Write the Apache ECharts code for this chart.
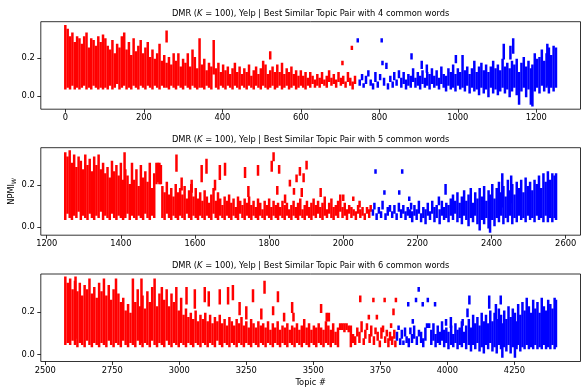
<!DOCTYPE html>
<html><head><meta charset="utf-8">
<script src="https://cdn.jsdelivr.net/npm/echarts/dist/echarts.min.js"></script>
<style>html,body{margin:0;padding:0;background:#fff}#c{width:586px;height:390px}</style>
</head><body><div id="c"></div>
<script>
// ---------- Panel 1 (4 common words) ----------
const p1Ticks = [0,200,400,600,800,1000,1200];
const p1RedTopic = [0,6,12,18,24,30,36,42,48,54,
60,66,72,78,84,90,96,102,108,114,
120,126,132,138,144,150,156,162,168,174,
180,186,192,198,204,210,216,222,228,234,
240,246,252,258,258,264,270,276,282,288,
294,300,306,312,318,324,330,336,342,348,
354,360,366,372,378,384,390,396,402,408,
414,420,426,432,438,444,450,456,462,468,
474,480,486,492,498,504,510,516,522,522,
528,534,540,546,552,558,564,570,576,582,
588,594,600,606,612,618,624,630,636,642,
648,654,660,666,672,678,684,690,696,702,
706,708,714,720,726,730,732,738];
const p1RedLow = [.04,.05,.04,.06,.04,.05,.04,.05,.06,.04,
.05,.04,.06,.05,.04,.05,.04,.05,.04,.06,
.04,.05,.07,.04,.05,.06,.04,.05,.04,.06,
.05,.04,.06,.05,.04,.06,.05,.04,.06,.05,
.04,.06,.05,.29,.05,.04,.06,.05,.04,.06,
.05,.04,.06,.05,.04,.06,.05,.04,.05,.05,
.04,.06,.05,.04,.12,.05,.04,.06,.05,.04,
.06,.05,.04,.06,.05,.04,.06,.05,.04,.06,
.05,.04,.06,.05,.04,.06,.05,.04,.20,.05,
.06,.04,.05,.06,.04,.05,.06,.04,.05,.06,
.04,.05,.06,.05,.04,.06,.05,.07,.05,.06,
.05,.07,.06,.05,.08,.06,.07,.05,.08,.06,
.17,.07,.05,.08,.06,.25,.04,.07];
const p1RedHigh = [.37,.35,.31,.33,.28,.31,.30,.27,.31,.33,
.25,.30,.29,.26,.31,.28,.32,.30,.26,.24,
.29,.22,.27,.25,.31,.33,.24,.28,.21,.30,
.23,.26,.29,.22,.25,.28,.20,.24,.19,.22,
.27,.18,.21,.34,.17,.20,.16,.22,.18,.22,
.15,.19,.17,.22,.15,.24,.20,.14,.30,.16,
.19,.13,.17,.15,.29,.14,.17,.12,.16,.13,
.15,.11,.14,.17,.12,.15,.11,.14,.12,.16,
.10,.13,.15,.11,.14,.18,.16,.11,.23,.13,
.15,.12,.16,.12,.17,.11,.14,.12,.15,.11,
.13,.10,.13,.10,.12,.09,.12,.10,.08,.11,
.09,.12,.08,.10,.13,.09,.11,.08,.12,.09,
.18,.10,.07,.12,.09,.26,.07,.10];
const p1BlueTopic = [745,750,756,760,766,772,778,784,790,796,
802,806,808,812,818,822,828,834,838,844,
850,856,862,868,874,880,882,886,892,898,
904,908,910,916,921,922,928,934,940,946,
952,958,964,970,976,982,988,994,995,1000,
1006,1012,1018,1024,1030,1036,1042,1048,1054,1060,
1066,1072,1078,1084,1090,1096,1102,1108,1114,1117,
1120,1126,1132,1134,1138,1141,1144,1150,1156,1162,
1168,1174,1180,1186,1190,1196,1202,1208,1214,1220,
1226,1228,1232,1238,1244,1250];
const p1BlueLow = [.29,.06,.09,.05,.07,.11,.06,.04,.08,.05,
.09,.29,.17,.06,.15,.04,.08,.05,.09,.06,
.10,.05,.07,.04,.06,.05,.20,.08,.05,.06,
.04,.15,.07,.05,.13,.06,.04,.07,.05,.06,
.04,.07,.05,.03,.06,.04,.05,.03,.18,.06,
.04,.05,.03,.06,.02,.05,.03,.04,.01,.05,
.02,.04,.00,.05,.02,.04,.01,.03,.05,.20,
.02,.04,.00,.20,.03,.23,.05,.01,-.04,.03,
.05,.00,.04,-.04,-.05,.03,.05,.02,.06,.03,
.05,.06,.02,.05,.03,.05];
const p1BlueHigh = [.30,.08,.11,.06,.10,.13,.08,.06,.12,.07,
.11,.30,.18,.09,.17,.06,.10,.07,.12,.08,
.13,.09,.12,.08,.11,.10,.22,.14,.09,.12,
.10,.18,.13,.09,.16,.12,.11,.14,.10,.13,
.09,.15,.11,.10,.14,.12,.16,.11,.21,.14,
.12,.21,.13,.15,.11,.14,.18,.12,.15,.17,
.13,.16,.12,.15,.18,.14,.16,.13,.19,.27,
.15,.17,.14,.26,.18,.30,.16,.19,.12,.17,
.20,.15,.18,.14,.16,.22,.19,.20,.24,.18,
.22,.27,.25,.21,.26,.25];

// ---------- Panel 2 (5 common words) ----------
const p2Ticks = [1200,1400,1600,1800,2000,2200,2400,2600];
const p2RedTopic = [1250,1256,1262,1268,1274,1280,1286,1292,1298,1304,
1310,1316,1322,1328,1334,1340,1346,1352,1358,1364,
1370,1376,1382,1388,1394,1400,1406,1410,1412,1418,
1424,1430,1436,1442,1448,1454,1460,1466,1472,1478,
1484,1490,1496,1500,1504,1508,1512,1518,1524,1530,
1536,1542,1548,1550,1554,1560,1564,1566,1572,1578,
1584,1590,1591,1596,1602,1608,1614,1618,1620,1626,
1631,1632,1638,1644,1650,1654,1656,1662,1667,1668,
1674,1680,1681,1686,1692,1698,1704,1710,1716,1722,
1728,1734,1735,1740,1744,1746,1752,1758,1764,1770,
1770,1776,1782,1788,1794,1800,1806,1807,1812,1812,
1818,1822,1824,1827,1830,1836,1842,1843,1848,1854,
1856,1860,1866,1867,1872,1874,1878,1883,1884,1888,
1890,1893,1896,1901,1902,1908,1914,1920,1926,1932,
1938,1939,1944,1950,1956,1962,1968,1974,1980,1986,
1992,1998,2000,2004,2010,2016,2022,2027,2028,2034,
2040,2044,2046,2052,2058,2064,2070,2074];
const p2RedLow = [.04,.07,.05,.04,.06,.05,.08,.04,.06,.05,
.04,.07,.05,.04,.06,.05,.08,.04,.06,.05,
.04,.07,.05,.04,.06,.05,.04,.06,.05,.07,
.04,.06,.05,.04,.06,.05,.04,.07,.05,.04,
.06,.05,.21,.22,.21,.21,.05,.04,.07,.05,
.04,.06,.05,.27,.04,.06,.18,.05,.04,.07,
.05,.04,.17,.06,.05,.04,.06,.22,.05,.04,
.26,.06,.05,.04,.07,.18,.05,.04,.23,.06,
.05,.04,.25,.06,.05,.04,.06,.05,.04,.07,
.05,.04,.24,.06,.15,.05,.04,.06,.05,.04,
.25,.06,.05,.04,.06,.05,.04,.27,.32,.06,
.05,.16,.04,.26,.06,.05,.04,.12,.06,.05,
.20,.04,.06,.16,.05,.22,.04,.25,.06,.15,
.05,.22,.04,.28,.06,.05,.04,.06,.05,.07,
.05,.15,.04,.06,.05,.07,.05,.04,.06,.05,
.08,.05,.13,.06,.04,.07,.05,.13,.06,.04,
.07,.10,.05,.06,.04,.07,.05,.08];
const p2RedHigh = [.35,.33,.36,.30,.34,.28,.33,.31,.27,.34,
.29,.32,.26,.33,.29,.34,.27,.30,.25,.28,
.23,.31,.26,.29,.24,.30,.22,.35,.27,.24,
.20,.30,.22,.27,.19,.29,.23,.26,.21,.30,
.18,.25,.30,.30,.30,.29,.19,.16,.21,.15,
.18,.14,.20,.34,.16,.18,.23,.15,.19,.13,
.17,.20,.22,.14,.18,.13,.16,.29,.12,.17,
.32,.14,.11,.15,.18,.22,.12,.16,.29,.13,
.10,.14,.30,.12,.15,.11,.13,.09,.14,.12,
.10,.13,.28,.11,.19,.14,.10,.12,.09,.13,
.29,.11,.08,.12,.10,.13,.09,.31,.35,.12,
.10,.19,.11,.29,.09,.12,.10,.15,.11,.08,
.22,.10,.12,.18,.09,.245,.11,.28,.13,.18,
.08,.25,.10,.31,.12,.09,.11,.13,.10,.12,
.09,.18,.11,.14,.08,.11,.13,.09,.10,.12,
.15,.09,.15,.11,.08,.10,.09,.14,.08,.07,
.10,.12,.08,.09,.06,.09,.08,.10];
const p2BlueTopic = [2080,2084,2087,2090,2096,2102,2106,2111,2114,2120,
2126,2132,2138,2144,2150,2151,2156,2159,2162,2168,
2174,2178,2180,2183,2186,2192,2198,2204,2210,2216,
2222,2228,2234,2240,2246,2252,2258,2260,2266,2272,
2276,2278,2284,2290,2296,2302,2308,2314,2320,2326,
2332,2338,2344,2350,2356,2362,2368,2374,2380,2386,
2392,2396,2402,2408,2414,2420,2426,2429,2432,2438,
2444,2450,2453,2456,2462,2468,2474,2480,2486,2492,
2498,2504,2510,2516,2522,2528,2534,2540,2546,2552,
2558,2564,2570,2574];
const p2BlueLow = [.06,.09,.26,.04,.07,.05,.09,.16,.04,.06,
.08,.05,.07,.04,.08,.16,.05,.26,.07,.04,
.06,.13,.05,.09,.03,.06,.04,.07,.03,.05,
.02,.06,.04,.07,.03,.05,.11,.02,.06,.04,
.16,.05,.03,.06,.04,.07,.03,.05,.02,.06,
.04,.01,.05,.03,.06,.02,-.01,.04,.02,.05,
.00,-.02,.04,.01,.05,.03,.06,.10,.02,.05,
.03,.06,.12,.02,.05,.03,.06,.04,.05,.03,
.06,.04,.05,.03,.06,.04,.05,.03,.06,.03,
.05,.03,.05,.04];
const p2BlueHigh = [.08,.11,.27,.06,.09,.07,.12,.17,.06,.09,
.10,.07,.10,.06,.11,.17,.08,.27,.10,.07,
.09,.14,.08,.11,.07,.10,.08,.12,.06,.09,
.08,.11,.07,.12,.09,.10,.14,.08,.12,.09,
.20,.11,.10,.13,.15,.12,.16,.11,.14,.17,
.12,.15,.18,.11,.16,.13,.18,.14,.19,.12,
.17,.15,.20,.13,.18,.21,.16,.25,.19,.14,
.22,.17,.24,.20,.15,.21,.18,.22,.16,.23,
.19,.21,.17,.22,.20,.24,.18,.25,.21,.26,
.22,.25,.24,.25];

// ---------- Panel 3 (6 common words) ----------
const p3Ticks = [2500,2750,3000,3250,3500,3750,4000,4250];
const p3RedTopic = [2575,2584,2593,2602,2611,2613,2620,2629,2638,2647,
2656,2665,2674,2683,2692,2701,2710,2719,2728,2737,
2746,2755,2764,2773,2782,2791,2800,2809,2818,2827,
2836,2845,2854,2859,2863,2872,2881,2890,2899,2908,
2917,2926,2935,2944,2953,2962,2971,2980,2989,2998,
3007,3016,3025,3027,3034,3043,3052,3058,3061,3070,
3079,3088,3095,3097,3106,3110,3115,3124,3133,3142,
3151,3151,3160,3169,3178,3182,3187,3196,3200,3205,
3214,3223,3225,3232,3241,3250,3250,3259,3268,3275,
3277,3286,3295,3304,3306,3313,3318,3322,3331,3340,
3349,3350,3358,3367,3368,3376,3385,3391,3394,3403,
3412,3421,3421,3426,3430,3439,3448,3457,3466,3475,
3484,3493,3502,3511,3520,3529,3529,3538,3547,3550,
3556,3558,3565,3574,3583,3592,3600,3608,3616,3624,
3632,3640,3648,3656,3664,3672,3675,3680,3688,3694,
3700,3707,3710,3716,3724,3726,3732,3737,3740,3748,
3754,3760,3766,3768,3774,3780,3786,3790,3794,3799,
3802,3806,3808];
const p3RedLow = [.05,.06,.05,.07,.05,.08,.04,.06,.05,.04,
.07,.05,.04,.06,.05,.04,.06,.05,.04,.07,
.05,.04,.06,.05,.04,.07,.05,.04,.06,.05,
.04,.07,.05,.06,.04,.06,.05,.04,.07,.05,
.04,.06,.05,.04,.07,.05,.04,.06,.05,.04,
.06,.05,.04,.24,.06,.05,.04,.22,.06,.05,
.04,.06,.25,.05,.04,.23,.06,.05,.04,.07,
.24,.05,.04,.06,.05,.24,.04,.06,.26,.05,
.04,.06,.19,.05,.04,.17,.06,.05,.04,.25,
.06,.05,.04,.06,.17,.05,.29,.04,.06,.05,
.04,.19,.06,.05,.25,.04,.06,.16,.05,.04,
.06,.20,.05,.16,.04,.06,.05,.04,.06,.05,
.04,.06,.05,.04,.06,.20,.05,.04,.06,.16,
.05,.16,.04,.06,.05,.04,.12,.12,.11,.12,
.11,.04,.06,.05,.09,.06,.25,.11,.05,.08,
.12,.17,.06,.09,.25,.05,.10,.17,.07,.04,
.08,.11,.25,.06,.09,.04,.07,.13,.05,.19,
.08,.04,.25];
const p3RedHigh = [.36,.33,.35,.30,.34,.36,.29,.33,.27,.32,
.30,.35,.28,.31,.26,.33,.29,.35,.27,.32,
.25,.30,.35,.28,.24,.26,.20,.23,.19,.35,
.24,.30,.22,.35,.27,.21,.29,.24,.31,.35,
.22,.28,.31,.25,.30,.22,.28,.24,.31,.20,
.26,.18,.21,.31,.17,.19,.16,.30,.20,.15,
.18,.16,.31,.19,.15,.29,.18,.14,.17,.15,
.30,.18,.14,.16,.13,.31,.17,.15,.32,.13,
.16,.14,.24,.17,.13,.22,.15,.12,.16,.30,
.14,.12,.15,.13,.21,.14,.34,.12,.15,.11,
.14,.22,.12,.15,.29,.11,.13,.19,.12,.14,
.11,.24,.13,.19,.12,.14,.11,.13,.16,.12,
.14,.11,.13,.12,.14,.23,.12,.11,.15,.19,
.13,.19,.11,.14,.10,.12,.14,.14,.14,.14,
.13,.13,.09,.08,.12,.10,.27,.15,.07,.11,
.14,.18,.09,.13,.26,.08,.12,.18,.10,.06,
.12,.13,.26,.08,.11,.07,.10,.14,.08,.21,
.11,.06,.26];
const p3BlueTopic = [3812,3818,3824,3830,3836,3842,3848,3854,3856,3862,
3868,3871,3876,3883,3886,3893,3894,3902,3908,3910,
3918,3924,3927,3932,3940,3948,3954,3956,3964,3972,
3980,3988,3995,3996,4004,4013,4014,4022,4030,4038,
4046,4054,4057,4062,4070,4075,4080,4082,4088,4096,
4104,4112,4120,4128,4136,4144,4152,4156,4160,4168,
4176,4181,4184,4192,4199,4200,4205,4212,4220,4228,
4236,4244,4252,4258,4264,4272,4280,4288,4296,4304,
4312,4320,4328,4336,4344,4352,4360,4368,4376,4384,
4392,4400,4405];
const p3BlueLow = [.07,.12,.05,.08,.05,.09,.06,.23,.04,.10,
.06,.15,.08,.25,.05,.30,.09,.06,.23,.04,
.07,.13,.25,.13,.05,.07,.23,.04,.06,.05,
.07,.04,.14,.06,.03,.13,.05,.04,.06,.03,
.05,.04,.14,.06,.03,.18,.05,.24,.02,.05,
.03,.06,.02,.04,.01,.05,.03,.22,.06,.02,
.04,.17,.01,.05,.24,.03,-.01,.04,.02,.05,
.01,.04,-.01,.03,.05,.02,.04,.03,.05,.03,
.04,.03,.05,.03,.04,.03,.05,.03,.04,.03,
.05,.03,.04];
const p3BlueHigh = [.10,.13,.07,.11,.06,.12,.08,.24,.07,.12,
.09,.16,.13,.26,.08,.31,.11,.10,.24,.07,
.12,.14,.26,.14,.11,.14,.24,.09,.13,.10,
.15,.11,.16,.12,.10,.17,.13,.09,.14,.11,
.12,.15,.16,.10,.13,.21,.16,.27,.12,.18,
.14,.17,.13,.19,.15,.18,.14,.27,.20,.15,
.19,.23,.16,.21,.27,.18,.14,.20,.16,.22,
.17,.21,.19,.15,.23,.18,.24,.20,.26,.22,
.19,.25,.21,.24,.19,.26,.22,.20,.25,.23,
.21,.26,.25];

const yTicks = [0, 0.2];
const commonWords = [4, 5, 6];

// ---------- layout ----------
const FONT = 'DejaVu Sans';
const FS = 8.3;
const gridLeft = 40.8, gridWidth = 539.7, gridHeight = 87.5;
const panels = [
  {top: 21.7, xMin: -62.5, xMax: 1312.5, yMin: -0.0706, yMax: 0.394, ticks: p1Ticks,
   red: [p1RedTopic, p1RedLow, p1RedHigh], blue: [p1BlueTopic, p1BlueLow, p1BlueHigh]},
  {top: 147.7, xMin: 1184, xMax: 2640, yMin: -0.038, yMax: 0.378, ticks: p2Ticks,
   red: [p2RedTopic, p2RedLow, p2RedHigh], blue: [p2BlueTopic, p2BlueLow, p2BlueHigh]},
  {top: 274, xMin: 2483.5, xMax: 4496.5, yMin: -0.033, yMax: 0.377, ticks: p3Ticks,
   red: [p3RedTopic, p3RedLow, p3RedHigh], blue: [p3BlueTopic, p3BlueLow, p3BlueHigh]}
];

function zip(arr) { return arr[0].map((t, i) => [t, arr[1][i], arr[2][i]]); }
function makeRender(color) {
  return function (params, api) {
    const x = api.value(0);
    const a = api.coord([x, api.value(1)]);
    const b = api.coord([x, api.value(2)]);
    return {type: 'line', shape: {x1: a[0], y1: a[1], x2: b[0], y2: b[1]},
            style: {stroke: color, lineWidth: 2.5, lineCap: 'square'}};
  };
}

const grids = [], xAxes = [], yAxes = [], series = [], graphics = [];
panels.forEach((p, i) => {
  grids.push({left: gridLeft, top: p.top, width: gridWidth, height: gridHeight,
              show: true, borderColor: '#000', borderWidth: 0.8, backgroundColor: '#fff', containLabel: false});
  xAxes.push({type: 'value', gridIndex: i, min: p.xMin, max: p.xMax, position: 'bottom',
    axisLine: {show: false, onZero: false}, splitLine: {show: false},
    axisTick: {show: true, inside: false, length: 3.5, customValues: p.ticks, lineStyle: {color: '#000', width: 0.8}},
    axisLabel: {customValues: p.ticks, margin: 5, color: '#000', fontSize: FS, fontFamily: FONT,
                formatter: v => String(v)}});
  yAxes.push({type: 'value', gridIndex: i, min: p.yMin, max: p.yMax, position: 'left',
    axisLine: {show: false, onZero: false}, splitLine: {show: false},
    axisTick: {show: true, inside: false, length: 3.5, customValues: yTicks, lineStyle: {color: '#000', width: 0.8}},
    axisLabel: {customValues: yTicks, margin: 6, color: '#000', fontSize: FS, fontFamily: FONT,
                formatter: v => v.toFixed(1)}});
  series.push({type: 'custom', xAxisIndex: i, yAxisIndex: i, clip: true, silent: true,
               encode: {x: 0, y: [1, 2]}, renderItem: makeRender('#ff0000'), data: zip(p.red)});
  series.push({type: 'custom', xAxisIndex: i, yAxisIndex: i, clip: true, silent: true,
               encode: {x: 0, y: [1, 2]}, renderItem: makeRender('#0000ff'), data: zip(p.blue)});
  graphics.push({type: 'text', x: gridLeft + gridWidth / 2, y: p.top - 8, silent: true,
    style: {text: '{n|DMR (}{i|K}{n| = 100), Yelp | Best Similar Topic Pair with ' + commonWords[i] + ' common words}',
      align: 'center', verticalAlign: 'middle',
      rich: {n: {fontSize: FS, fontFamily: FONT, fill: '#000', color: '#000'},
             i: {fontSize: FS, fontFamily: FONT, fontStyle: 'italic', fill: '#000', color: '#000'}}}});
});
graphics.push({type: 'text', x: 12, y: 191.4, rotation: Math.PI / 2, silent: true,
  style: {text: '{n|NPMI}{s|W}', align: 'center', verticalAlign: 'middle',
    rich: {n: {fontSize: FS, fontFamily: FONT, fill: '#000', color: '#000'},
           s: {fontSize: 6, fontFamily: FONT, fontStyle: 'italic', fill: '#000', color: '#000', verticalAlign: 'bottom', padding: [4, 0, 0, 0]}}}});
graphics.push({type: 'text', x: gridLeft + gridWidth / 2, y: 382.5, silent: true,
  style: {text: 'Topic #', align: 'center', verticalAlign: 'middle', fontSize: FS, fontFamily: FONT, fill: '#000'}});

const chart = echarts.init(document.getElementById('c'), null, {renderer: 'canvas'});
chart.setOption({animation: false, backgroundColor: '#fff',
  grid: grids, xAxis: xAxes, yAxis: yAxes, series: series, graphic: graphics});
</script></body></html>
